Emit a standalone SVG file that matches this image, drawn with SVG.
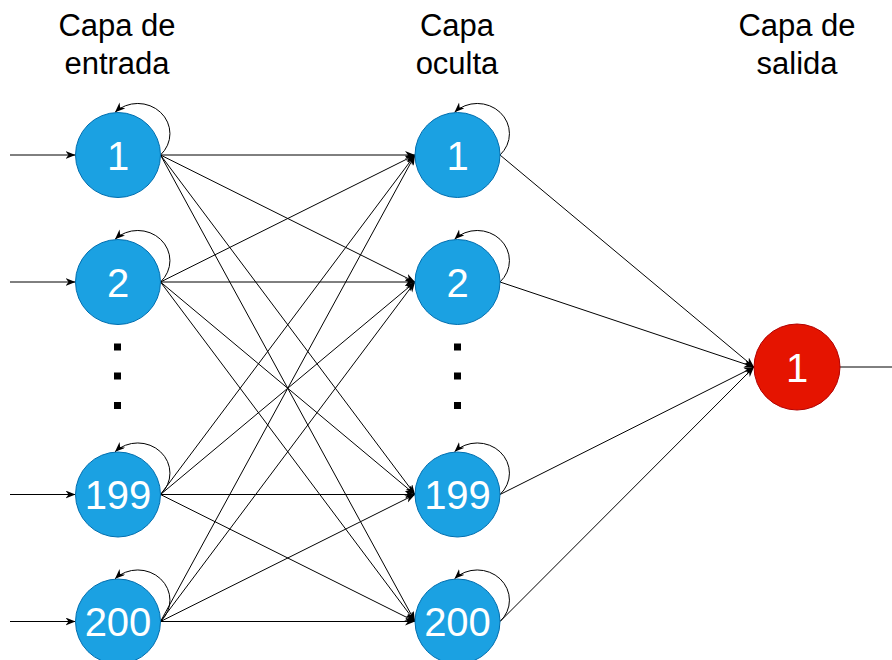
<svg xmlns="http://www.w3.org/2000/svg" width="892" height="660" viewBox="0 0 892 660">
<style>
.title{font-family:"Liberation Sans",Arial,sans-serif;font-size:31px;fill:#000;text-anchor:middle}
.num{font-family:"Liberation Sans",Arial,sans-serif;font-size:40px;fill:#fff;text-anchor:middle}
.blue{fill:#1BA1E2;stroke:#006EAF;stroke-width:1}
.red{fill:#E51400;stroke:#B20000;stroke-width:1}
.e{fill:none;stroke:#000;stroke-width:1}
.a{marker-end:url(#arr)}
.dot{fill:#000}
</style>
<defs>
<marker id="arr" markerUnits="userSpaceOnUse" markerWidth="11" markerHeight="9" refX="10" refY="4" orient="auto">
<path d="M0,0 L10,4 L0,8 L3,4 z" fill="#000"/>
</marker>
</defs>
<rect width="892" height="660" fill="#fff"/>
<g id="titles">
<text class="title" x="117" y="36">Capa de</text>
<text class="title" x="117" y="74">entrada</text>
<text class="title" x="457" y="36">Capa</text>
<text class="title" x="457" y="74">oculta</text>
<text class="title" x="797" y="36">Capa de</text>
<text class="title" x="797" y="74">salida</text>
</g>
<g id="connectors">
<path class="e a" d="M10,155 L75.5,155"/>
<path class="e a" d="M10,282 L75.5,282"/>
<path class="e a" d="M10,494.5 L75.5,494.5"/>
<path class="e a" d="M10,621.5 L75.5,621.5"/>
<path class="e a" d="M160.5,155 L415,155"/>
<path class="e a" d="M160.5,155 L415,282"/>
<path class="e a" d="M160.5,155 L415,494.5"/>
<path class="e a" d="M160.5,155 L415,621.5"/>
<path class="e a" d="M160.5,282 L415,155"/>
<path class="e a" d="M160.5,282 L415,282"/>
<path class="e a" d="M160.5,282 L415,494.5"/>
<path class="e a" d="M160.5,282 L415,621.5"/>
<path class="e a" d="M160.5,494.5 L415,155"/>
<path class="e a" d="M160.5,494.5 L415,282"/>
<path class="e a" d="M160.5,494.5 L415,494.5"/>
<path class="e a" d="M160.5,494.5 L415,621.5"/>
<path class="e a" d="M160.5,621.5 L415,155"/>
<path class="e a" d="M160.5,621.5 L415,282"/>
<path class="e a" d="M160.5,621.5 L415,494.5"/>
<path class="e a" d="M160.5,621.5 L415,621.5"/>
<path class="e a" d="M500,155 L754,367"/>
<path class="e a" d="M500,282 L754,367"/>
<path class="e a" d="M500,494.5 L754,367"/>
<path class="e a" d="M500,621.5 L754,367"/>
<path class="e" d="M840,367 L892,367"/>
<path class="e a" d="M160.5,155 A32,30 0 1 0 115,112.3"/>
<path class="e a" d="M160.5,282 A32,30 0 1 0 115,239.3"/>
<path class="e a" d="M160.5,494.5 A32,30 0 1 0 115,451.8"/>
<path class="e a" d="M160.5,621.5 A32,30 0 1 0 115,578.8"/>
<path class="e a" d="M500,155 A32,30 0 1 0 454.5,112.3"/>
<path class="e a" d="M500,282 A32,30 0 1 0 454.5,239.3"/>
<path class="e a" d="M500,494.5 A32,30 0 1 0 454.5,451.8"/>
<path class="e a" d="M500,621.5 A32,30 0 1 0 454.5,578.8"/>
</g>
<g id="in1"><circle class="blue" cx="118" cy="155" r="42.5"/><text class="num" x="118" y="169.5">1</text></g>
<g id="in2"><circle class="blue" cx="118" cy="282" r="42.5"/><text class="num" x="118" y="296.5">2</text></g>
<g id="in199"><circle class="blue" cx="118" cy="494.5" r="42.5"/><text class="num" x="118" y="509">199</text></g>
<g id="in200"><circle class="blue" cx="118" cy="621.5" r="42.5"/><text class="num" x="118" y="636">200</text></g>
<g id="in-dots"><rect class="dot" x="114" y="343.5" width="7" height="7"/><rect class="dot" x="114" y="372.5" width="7" height="7"/><rect class="dot" x="114" y="402" width="7" height="7"/></g>
<g id="h1"><circle class="blue" cx="457.5" cy="155" r="42.5"/><text class="num" x="457.5" y="169.5">1</text></g>
<g id="h2"><circle class="blue" cx="457.5" cy="282" r="42.5"/><text class="num" x="457.5" y="296.5">2</text></g>
<g id="h199"><circle class="blue" cx="457.5" cy="494.5" r="42.5"/><text class="num" x="457.5" y="509">199</text></g>
<g id="h200"><circle class="blue" cx="457.5" cy="621.5" r="42.5"/><text class="num" x="457.5" y="636">200</text></g>
<g id="h-dots"><rect class="dot" x="454" y="343.5" width="7" height="7"/><rect class="dot" x="454" y="372.5" width="7" height="7"/><rect class="dot" x="454" y="402" width="7" height="7"/></g>
<g id="out1"><circle class="red" cx="797" cy="367" r="43"/><text class="num" x="797" y="381.5">1</text></g>
</svg>
